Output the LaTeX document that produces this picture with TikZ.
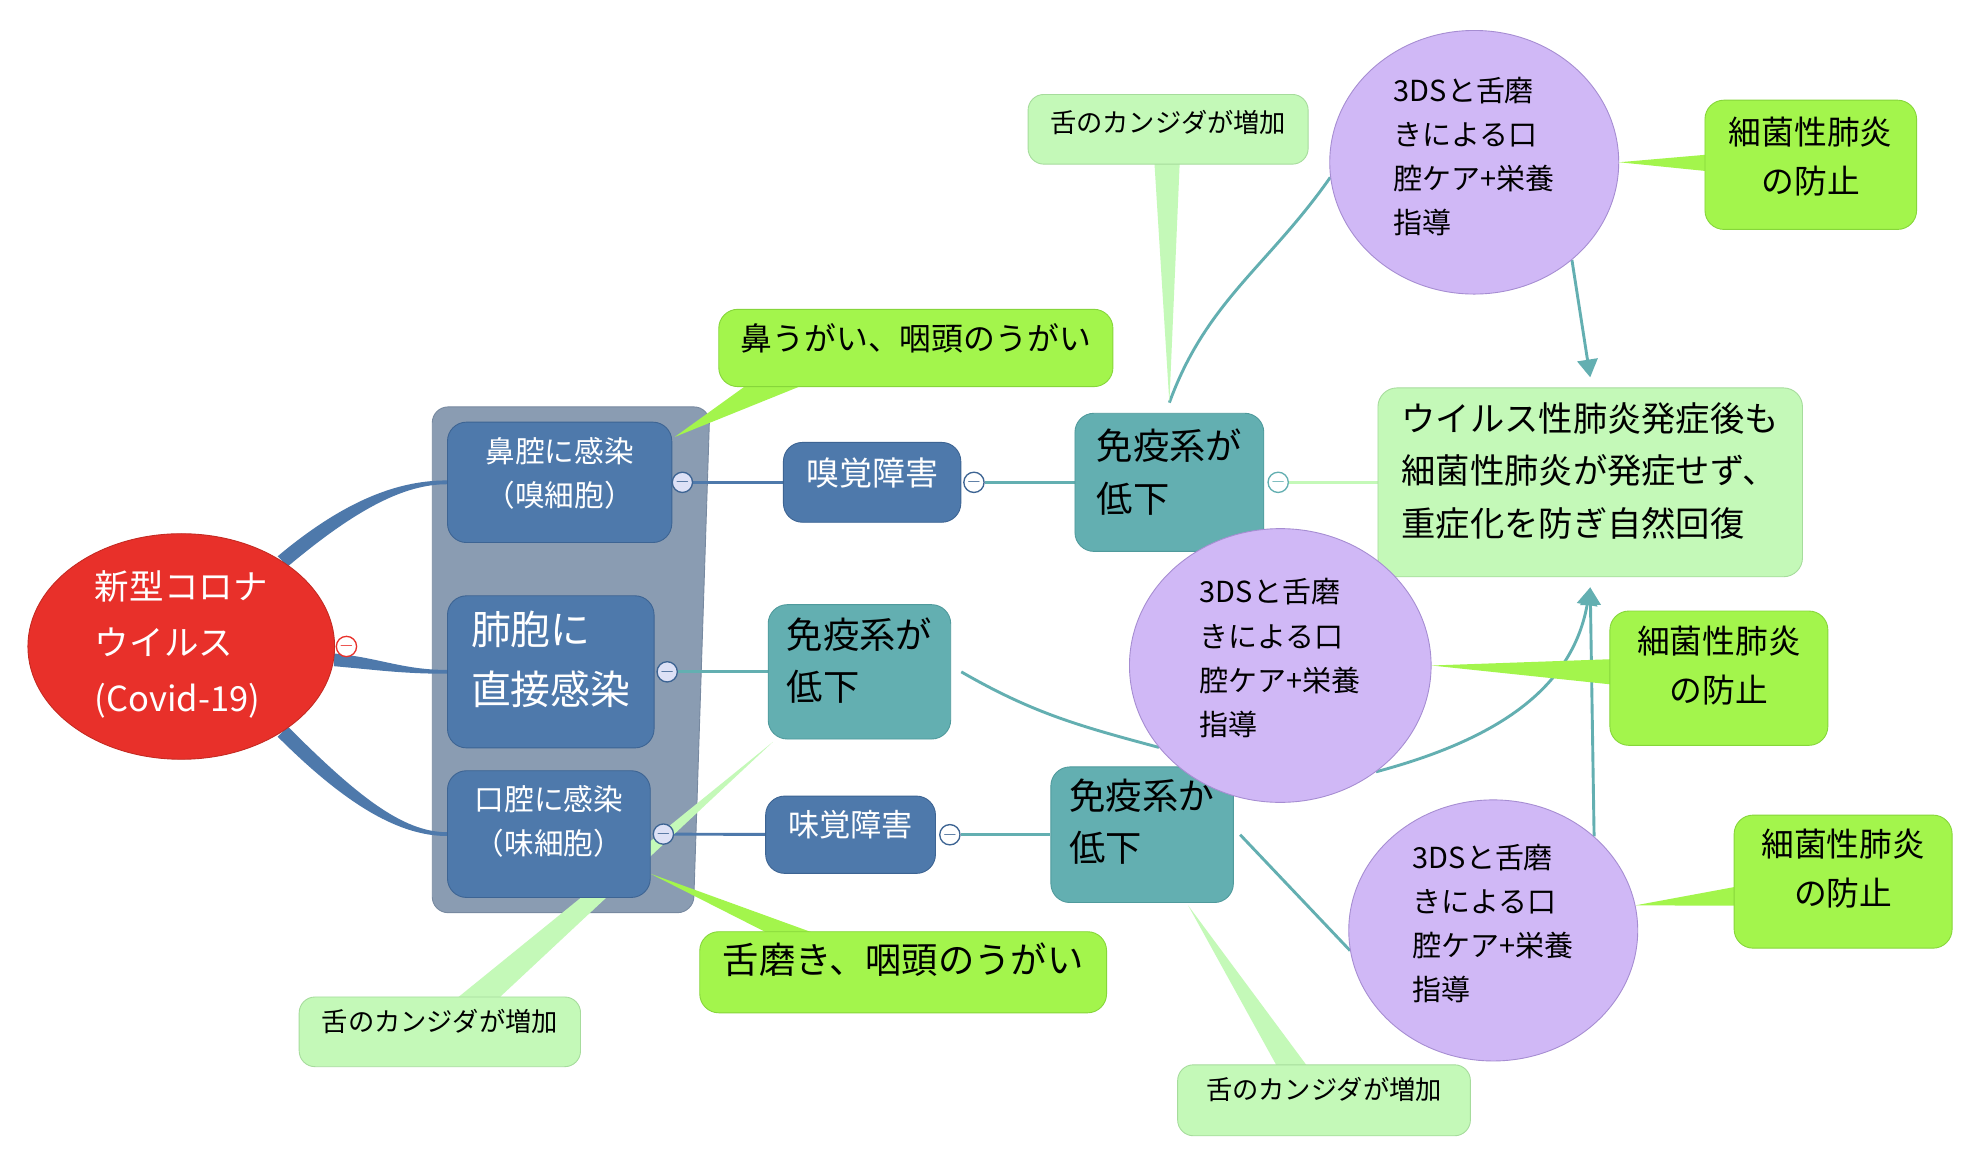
\documentclass[tikz,border=0pt]{standalone}
\usepackage{fontspec}
\setmainfont{Noto Sans CJK JP}
\usetikzlibrary{shapes.geometric,arrows.meta,calc}

\definecolor{virusred}{HTML}{E8302A}
\definecolor{virusedge}{HTML}{C42A22}
\definecolor{cellblue}{HTML}{4E79AB}
\definecolor{celledge}{HTML}{3D6493}
\definecolor{panelgray}{HTML}{8A9CB2}
\definecolor{paneledge}{HTML}{7789A0}
\definecolor{immteal}{HTML}{63AFB1}
\definecolor{immedge}{HTML}{4F9A9C}
\definecolor{paleg}{HTML}{C4F9B8}
\definecolor{paleedge}{HTML}{A6DC9C}
\definecolor{limeg}{HTML}{A3F54C}
\definecolor{limeedge}{HTML}{86D63A}
\definecolor{carepurple}{HTML}{D0B8F6}
\definecolor{careedge}{HTML}{A68DD2}
\definecolor{foldfill}{HTML}{DDE1F6}

\pgfdeclarelayer{panel}
\pgfdeclarelayer{links}
\pgfsetlayers{panel,links,main}

\tikzset{
	virus/.style={ellipse, draw=virusedge, fill=virusred, text=white, align=left, inner sep=0pt,
		minimum width=4.84cm, minimum height=3.56cm, text depth=0.17cm, font=\fontsize{15.5}{25}\selectfont},
	cell/.style={rectangle, rounded corners=0.3cm, draw=celledge, fill=cellblue, text=white,
		align=center, inner sep=0pt, text depth=0.33cm, font=\fontsize{13.3}{19.8}\selectfont},
	imm/.style={rectangle, rounded corners=0.3cm, draw=immedge, fill=immteal, align=left, inner sep=0pt,
		minimum width=2.88cm, minimum height=2.14cm, text depth=0.41cm, font=\fontsize{16.3}{23.5}\selectfont},
	care/.style={ellipse, draw=careedge, fill=carepurple, align=left, inner sep=0pt,
		text depth=0.25cm, font=\fontsize{13}{19.8}\selectfont},
	guard/.style={rectangle, rounded corners=0.3cm, draw=limeedge, fill=limeg, align=center, inner sep=0pt,
		minimum width=3.44cm, minimum height=2.1cm, text depth=0.45cm, font=\fontsize{14.7}{22}\selectfont},
	cand/.style={rectangle, rounded corners=0.25cm, draw=paleedge, fill=paleg, inner sep=0pt,
		minimum height=1.1cm, text depth=0.37cm, font=\fontsize{11.8}{14}\selectfont},
	rinse/.style={rectangle, rounded corners=0.3cm, draw=limeedge, fill=limeg, inner sep=0pt},
	fold/.style={circle, draw=#1, text=#1, fill=white, inner sep=0pt, minimum size=0.32cm,
		line width=0.6pt, font=\fontsize{8}{8}\selectfont},
	trunk/.style={fill=cellblue},
	link/.style={draw=#1, line width=1.3pt},
	arrowed/.style={-{Triangle[length=0.28cm,width=0.32cm]}},
}

\begin{document}
\begin{tikzpicture}[x=0.02cm, y=-0.02cm]
	% infection
	\node[virus] (virus) at (143,510) {新型コロナ\\ウイルス\\(Covid-19)};
	\node[cell, minimum width=3.54cm, minimum height=1.9cm] (nasal) at (441.5,380.5) {鼻腔に感染\\（嗅細胞）};
	\node[cell, align=left, minimum width=3.26cm, minimum height=2.4cm, text depth=0.45cm, font=\fontsize{17.9}{27.2}\selectfont] (lung) at (434.5,530) {肺胞に\\直接感染};
	\node[cell, minimum width=3.2cm, minimum height=2cm, text depth=0.45cm] (oral) at (433,658) {口腔に感染\\（味細胞）};

	\node[cell, minimum width=2.8cm, minimum height=1.26cm, font=\fontsize{14.8}{18}\selectfont] (smell) at (688,380.5) {嗅覚障害};
	\node[cell, minimum width=2.68cm, minimum height=1.22cm, text depth=0.37cm, font=\fontsize{14}{18}\selectfont] (taste) at (671,658.5) {味覚障害};

	\node[imm, minimum width=2.98cm, minimum height=2.18cm, text depth=0.37cm] (immA) at (922.5,380.5) {免疫系が\\低下};
	\node[imm, minimum height=2.12cm] (immB) at (678,530) {免疫系が\\低下};
	\node[imm, text depth=0.45cm] (immC) at (901,658.5) {免疫系が\\低下};

	\node[rectangle, rounded corners=0.3cm, draw=paleedge, fill=paleg, align=left, inner sep=0pt,
		minimum width=6.7cm, minimum height=2.98cm, text depth=0.41cm, font=\fontsize{15.4}{23.5}\selectfont]
		(result) at (1254.5,380.5) {ウイルス性肺炎発症後も\\細菌性肺炎が発症せず、\\重症化を防ぎ自然回復};

	% care
	\node[care, minimum width=4.56cm, minimum height=4.16cm, text depth=0.21cm] (careA) at (1163,128) {3DSと舌磨\\きによる口\\腔ケア+栄養\\指導};
	\node[care, minimum width=4.76cm, minimum height=4.32cm, text depth=0.27cm] (careB) at (1010,525) {3DSと舌磨\\きによる口\\腔ケア+栄養\\指導};
	\node[care, minimum width=4.56cm, minimum height=4.12cm] (careC) at (1178,734) {3DSと舌磨\\きによる口\\腔ケア+栄養\\指導};

	\node[guard, minimum width=3.34cm, minimum height=2.04cm, text depth=0.29cm] (guardA) at (1428.5,130) {細菌性肺炎\\の防止};
	\node[guard, minimum height=2.12cm] (guardB) at (1356,535) {細菌性肺炎\\の防止};
	\node[guard] (guardC) at (1454,695.5) {細菌性肺炎\\の防止};

	% callouts
	\node[rinse, minimum width=6.22cm, minimum height=1.22cm, text depth=0.33cm, font=\fontsize{14.3}{18}\selectfont] (rinseA) at (722.5,274.5) {鼻うがい、咽頭のうがい};
	\node[rinse, minimum width=6.42cm, minimum height=1.28cm, text depth=0.45cm, font=\fontsize{16.3}{20}\selectfont] (rinseB) at (712.5,767) {舌磨き、咽頭のうがい};
	\node[cand, minimum width=4.42cm, text depth=0.25cm] (candA) at (921.5,102) {舌のカンジダが増加};
	\node[cand, minimum width=4.44cm] (candB) at (347,814) {舌のカンジダが増加};
	\node[cand, minimum width=4.62cm, minimum height=1.12cm] (candC) at (1044.5,868) {舌のカンジダが増加};

	% fold markers
	\node[fold=virusred] (fV) at ($(virus.east)+(9,0)$) {$-$};
	\node[fold=celledge, fill=foldfill] (fA) at ($(nasal.east)+(8,0)$) {$-$};
	\node[fold=celledge, fill=foldfill] (fB) at ($(lung.east)+(10,0)$) {$-$};
	\node[fold=celledge, fill=foldfill] (fC) at ($(oral.east)+(10,0)$) {$-$};
	\node[fold=celledge] (fD) at ($(smell.east)+(10,0)$) {$-$};
	\node[fold=celledge] (fE) at ($(taste.east)+(11,0)$) {$-$};
	\node[fold=immteal] (fF) at ($(immA.east)+(11,0)$) {$-$};

	\begin{pgfonlayer}{panel}
		\path[use as bounding box, fill=white] (0,0) rectangle (1562,920);
		\filldraw[fill=panelgray, draw=paneledge, rounded corners=0.25cm] (341,321) -- (560,321) -- (547,720) -- (341,720) -- cycle;
	\end{pgfonlayer}

	\begin{pgfonlayer}{links}
		% tapering branches
		\fill[trunk] ($(virus.40)+(-4,-4)$) to[out=40,in=180,out looseness=1.3,in looseness=0.6] ($(nasal.west)+(0,-1.5)$)
			-- ($(nasal.west)+(0,1.5)$) to[out=180,in=40,out looseness=0.6,in looseness=1.3] ($(virus.40)+(4,4)$) -- cycle;
		\fill[trunk] ($(virus.-5)+(0,-5)$) to[out=-5,in=180] ($(lung.west)+(0,-1.5)$)
			-- ($(lung.west)+(0,1.5)$) to[out=180,in=-5] ($(virus.-5)+(0,5)$) -- cycle;
		\fill[trunk] ($(virus.-40)+(4,-4)$) to[out=-45,in=180,out looseness=1.3,in looseness=0.6] ($(oral.west)+(0,-1.5)$)
			-- ($(oral.west)+(0,1.5)$) to[out=180,in=-45,out looseness=0.6,in looseness=1.3] ($(virus.-40)+(-4,4)$) -- cycle;

		\draw[link=cellblue] (fA) -- (smell);
		\draw[link=immteal] (fD) -- (immA);
		\draw[link=paleg] (fF) -- (result);
		\draw[link=immteal] (fB) -- (immB);
		\draw[link=cellblue] (fC) -- (taste);
		\draw[link=immteal] (fE) -- (immC);

		\draw[link=immteal] ($(immA.north)+(0,-8)$) to[out=70,in=235] (careA.186);
		\draw[link=immteal] ($(immB.east)+(8,0)$) to[out=-30,in=165] (careB.214);
		\draw[link=immteal] ($(immC.east)+(5,0)$) -- (careC.188);
		\draw[link=immteal, arrowed] (careA.-45) -- ($(result.north)+(0,-8)$);
		\draw[link=immteal, arrowed] (careB.-48) to[out=15,in=-100] ($(result.south)+(0,8)$);
		\draw[link=immteal, arrowed] (careC.43) -- ($(result.south)+(0,8)$);

		%\draw (rinseA) -- (nasal);
		\fill[limeg] ($(rinseA.south west)+(23,-2)$) -- ($(rinseA.south west)+(68,-2)$) -- ($(nasal.north east)+(2,12)$) -- cycle;
		\fill[limeg] ($(rinseB.north west)+(55,2)$) -- ($(rinseB.north west)+(92,2)$) -- ($(oral.south east)+(0,-19)$) -- cycle;
		\fill[limeg] (careA.0) -- ($(guardA.west)+(2,-8)$) -- ($(guardA.west)+(2,5)$) -- cycle;
		\fill[limeg] (careB.0) -- ($(guardB.west)+(2,-15)$) -- ($(guardB.west)+(2,5)$) -- cycle;
		\fill[limeg] (careC.10) -- ($(guardC.west)+(2,4)$) -- ($(guardC.west)+(2,19)$) -- cycle;

		\fill[paleg] ($(candA.south west)+(100,-2)$) -- ($(candA.south west)+(120,-2)$) -- ($(immA.north)+(0,-8)$) -- cycle;
		\fill[paleg] ($(candB.north west)+(124,2)$) -- ($(candB.north west)+(157,2)$) -- ($(immB.south west)+(4,2)$) -- cycle;
		\fill[paleg] ($(candC.north west)+(79,2)$) -- ($(candC.north west)+(103,2)$) -- ($(immC.south east)+(-36,2)$) -- cycle;
	\end{pgfonlayer}
\end{tikzpicture}
\end{document}
